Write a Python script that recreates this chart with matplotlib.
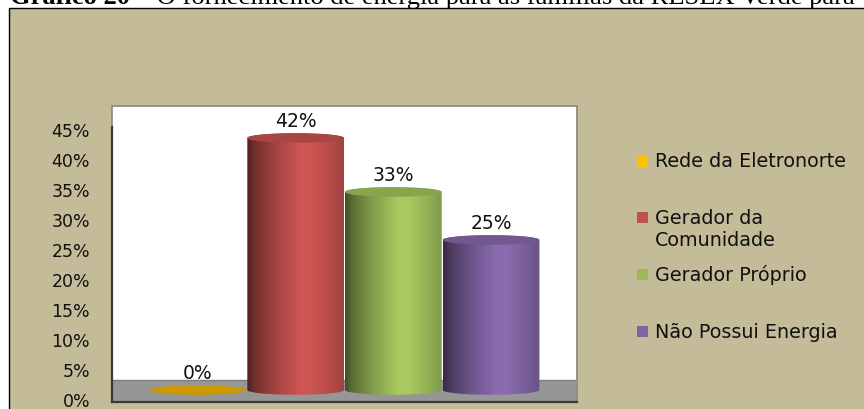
import numpy as np
import matplotlib
matplotlib.use("Agg")
import matplotlib.pyplot as plt
from matplotlib.patches import Rectangle, Ellipse
from matplotlib.path import Path
from matplotlib.colors import to_rgb

# dados do gráfico
categorias = ["Rede da Eletronorte", "Gerador da\nComunidade", "Gerador Próprio", "Não Possui Energia"]
valores = [0, 42, 33, 25]
cores = ["#FFC000", "#C0504D", "#9BBB59", "#8064A2"]
yticks = [0, 5, 10, 15, 20, 25, 30, 35, 40, 45]
titulo_negrito = "Gráfico 20"
titulo_resto = " – O fornecimento de energia para as famílias da RESEX Verde para"

W, H = 864, 410
fundo = "#C4BC99"


def fx(px):
    return px / W


def fy(py):
    return 1 - py / H


fig = plt.figure(figsize=(W / 100, H / 100), dpi=100)
fig.patch.set_facecolor("white")

# moldura bege do gráfico
fig.add_artist(Rectangle((fx(9), -0.1), 1.0, fy(9) + 0.1, transform=fig.transFigure,
                         facecolor=fundo, edgecolor="black", lw=1.0, zorder=0))

# titulo (cortado no topo da figura)
t1 = fig.text(fx(10), fy(4), titulo_negrito, family="Liberation Serif", weight="bold",
              size=14, va="baseline", ha="left")
t2 = fig.text(fx(100), fy(4), titulo_resto, family="Liberation Serif",
              size=14, va="baseline", ha="left")
r = fig.canvas.get_renderer()
larg = t1.get_window_extent(r).width + t2.get_window_extent(r).width
s = 14 * 847 / larg
t1.set_size(s)
t2.set_size(s)
t2.set_x(fx(10 + t1.get_window_extent(r).width))

# area de plotagem
ax = fig.add_axes([fx(112), (H - 403) / H, 465 / W, 296 / H])
ax.set_facecolor("white")
xmin, xmax = -0.88, 3.88
ymin, ymax = -0.5, 48.83

for lado in ["top", "right", "left"]:
    ax.spines[lado].set_color("#8c8c8c")
    ax.spines[lado].set_linewidth(1.3)
ax.spines["bottom"].set_color("#3a3a3a")
ax.spines["bottom"].set_linewidth(1.6)
# eixo vertical escuro só até 45%
ax.plot([xmin, xmin], [ymin, 45.3], color="#3a3a3a", lw=1.6, clip_on=False, zorder=6)

ax.set_yticks(yticks)
ax.set_yticklabels([f"{v}%" for v in yticks], family="DejaVu Sans", fontsize=12.5, color="#111111")
ax.tick_params(axis="y", length=0, pad=15.8)
ax.set_xticks([])

# piso cinza
ax.add_patch(Rectangle((xmin, ymin), xmax - xmin, 3.17 - ymin, facecolor="#969696",
                       edgecolor="none", zorder=1))
ax.axhline(3.17, color="#7e7e7e", lw=1.0, zorder=1)

# cilindros com sombreamento horizontal
base = 1.5
ry = 0.8
meia = 0.495
pos_sombra = [0, 0.08, 0.3, 0.55, 0.65, 0.85, 1.0]
mult_sombra = [0.42, 0.6, 0.85, 1.08, 1.08, 0.95, 0.82]

for i, (v, cor) in enumerate(zip(valores, cores)):
    rgb = np.array(to_rgb(cor))
    topo = base + v
    if v == 0:
        ax.add_patch(Ellipse((i, base), 2 * meia, 2 * ry, facecolor=np.clip(rgb * 0.8, 0, 1),
                             edgecolor="none", zorder=3))
    else:
        t_baixo = np.linspace(np.pi, 2 * np.pi, 60)
        t_cima = np.linspace(0, np.pi, 60)
        xs = np.concatenate([i + meia * np.cos(t_baixo), i + meia * np.cos(t_cima)])
        ys = np.concatenate([base + ry * np.sin(t_baixo), topo + ry * np.sin(t_cima)])
        verts = np.column_stack([xs, ys])
        verts = np.vstack([verts, verts[:1]])
        caminho = Path(verts, closed=True)

        u = np.linspace(0, 1, 300)
        m = np.interp(u, pos_sombra, mult_sombra)
        grad = np.clip(rgb[None, :] * m[:, None], 0, 1)[None, :, :]
        im = ax.imshow(grad, extent=[i - meia, i + meia, base - ry, topo + ry],
                       aspect="auto", interpolation="bilinear", zorder=3)
        im.set_clip_path(caminho, ax.transData)

        ax.add_patch(Ellipse((i, topo), 2 * meia, 2 * ry, facecolor=np.clip(rgb * 0.88, 0, 1),
                             edgecolor="none", zorder=4))

    ax.annotate(f"{v}%", (i, topo + ry), xytext=(0, 2), textcoords="offset points",
                ha="center", va="bottom", fontsize=13.5, family="DejaVu Sans", color="#111111",
                zorder=5)

ax.set_xlim(xmin, xmax)
ax.set_ylim(ymin, ymax)

# legenda
leg_y = [162, 218, 275, 332]
passo_linha = 23
for nome, cor, yy in zip(categorias, cores, leg_y):
    fig.add_artist(Rectangle((fx(637), fy(yy + 5.5)), 11 / W, 11 / H, transform=fig.transFigure,
                             facecolor=cor, edgecolor="none"))
    n = nome.count("\n")
    fig.text(fx(655), fy(yy + n * passo_linha / 2), nome, fontsize=13.8, family="DejaVu Sans",
             va="center", ha="left", linespacing=1.25, color="#111111")

fig.savefig("out.png", dpi=100, facecolor=fig.get_facecolor())
